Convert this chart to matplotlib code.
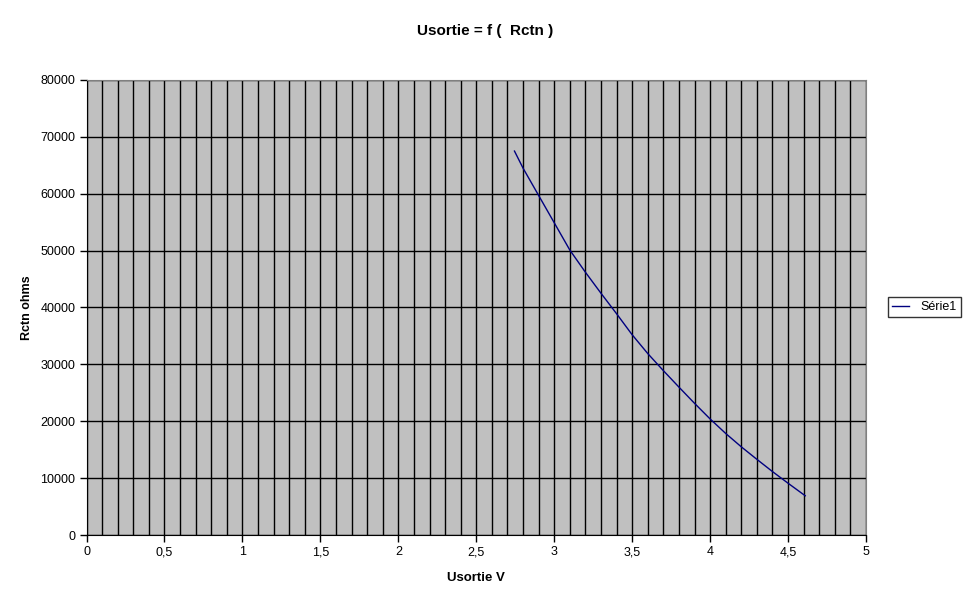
import numpy as np
import matplotlib
matplotlib.use('Agg')
import matplotlib.pyplot as plt
from matplotlib.ticker import MultipleLocator, FuncFormatter

plt.rcParams['font.family'] = ['Liberation Sans', 'DejaVu Sans']

# values
usortie = [2.745, 2.8, 2.9, 3.0, 3.1, 3.2, 3.3, 3.4, 3.5, 3.6,
           3.7, 3.8, 3.9, 4.0, 4.1, 4.2, 4.3, 4.4, 4.5, 4.61]
rctn = [67500, 64500, 59700, 54900, 50100, 46200, 42500, 38900, 35200, 31900,
        28900, 26000, 23150, 20400, 17850, 15500, 13300, 11150, 9100, 6900]
series_name = 'Série1'

fig = plt.figure(figsize=(9.71, 6.05), dpi=100)
ax = fig.add_axes([0.0891, 0.1157, 0.8028, 0.7521])
ax.set_facecolor('#C0C0C0')

ax.plot(usortie, rctn, color='#000080', linewidth=1.0, label=series_name)

ax.set_xlim(0, 5)
ax.set_ylim(0, 80000)
ax.xaxis.set_major_locator(MultipleLocator(0.5))
ax.xaxis.set_minor_locator(MultipleLocator(0.1))
ax.yaxis.set_major_locator(MultipleLocator(10000))
ax.xaxis.set_major_formatter(FuncFormatter(lambda v, p: f'{v:g}'.replace('.', ',')))

ax.grid(True, which='both', axis='x', color='black', linewidth=1.0)
ax.grid(True, which='major', axis='y', color='black', linewidth=1.0)
ax.set_axisbelow(True)

ax.tick_params(axis='both', which='major', direction='out', length=5,
               width=1, color='black', labelsize=9, pad=3)
ax.tick_params(axis='x', which='minor', length=0)

for s in ['left', 'bottom']:
    ax.spines[s].set_color('black')
for s in ['top', 'right']:
    ax.spines[s].set_color('#808080')

fig.text(0.5, 0.949, 'Usortie = f (  Rctn )', ha='center', va='center',
         fontsize=11, fontweight='bold')
ax.set_xlabel('Usortie V', fontsize=9.5, fontweight='bold', labelpad=10)
ax.set_ylabel('Rctn ohms', fontsize=9, fontweight='bold', labelpad=5)

leg = fig.legend(loc='center', bbox_to_anchor=(0.952, 0.4926), fontsize=9,
                 frameon=True, fancybox=False, handlelength=1.4,
                 borderpad=0.3, handletextpad=0.9)
leg.get_frame().set_edgecolor('black')
leg.get_frame().set_linewidth(1.0)

plt.savefig('out.png', dpi=100, facecolor='white')
